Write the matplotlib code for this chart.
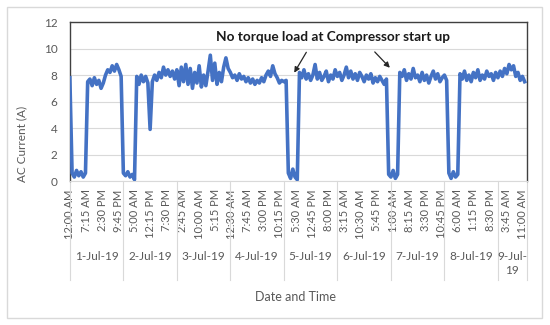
import numpy as np
import matplotlib
matplotlib.use("Agg")
import matplotlib.pyplot as plt
from matplotlib.patches import Rectangle

# ---------------------------------------------------------
# DATA  (hourly AC current readings, A)
# ---------------------------------------------------------

jul1 = [7.8, 0.6, 0.3, 0.8, 0.4, 0.7, 0.3, 0.6, 7.5, 7.7, 7.2, 7.8,
        7.3, 7.6, 7.0, 7.4, 8.0, 8.4, 8.2, 8.7, 8.3, 8.8, 8.4, 7.9]
jul2 = [0.6, 0.4, 0.7, 0.3, 0.5, 0.1, 7.9, 7.3, 8.0, 7.5, 7.9, 7.4,
        3.9, 7.5, 8.0, 7.6, 8.2, 7.8, 8.6, 8.0, 8.4, 7.9, 8.3, 7.7]
jul3 = [8.4, 7.2, 8.6, 7.5, 8.8, 7.3, 8.5, 7.0, 8.2, 7.4, 8.7, 7.1,
        8.0, 7.2, 8.3, 9.5, 7.6, 8.9, 7.3, 8.2, 7.5, 8.6, 9.3, 8.5]
jul4 = [8.2, 7.8, 8.0, 7.6, 8.1, 7.7, 7.9, 7.5, 7.8, 7.4, 7.7, 7.3,
        7.6, 7.4, 7.8, 7.5, 8.0, 8.3, 7.9, 8.7, 8.1, 7.8, 7.4, 7.6]
jul5 = [7.5, 7.6, 0.6, 0.2, 0.9, 0.3, 0.1, 8.2, 7.8, 8.4, 7.7, 8.1,
        7.6, 8.0, 8.8, 7.7, 8.2, 7.6, 7.9, 8.3, 7.5, 8.0, 7.7, 8.4]
jul6 = [7.9, 8.2, 7.6, 8.0, 8.6, 7.8, 8.3, 7.7, 8.1, 7.6, 8.2, 7.9,
        7.5, 8.0, 7.7, 8.1, 7.4, 7.8, 7.5, 7.9, 7.6, 7.3, 7.7, 0.5]
jul7 = [0.3, 0.8, 0.2, 0.5, 8.2, 7.9, 8.4, 7.6, 8.1, 7.7, 8.5, 7.8,
        8.0, 7.5, 8.2, 7.6, 8.0, 7.4, 7.9, 8.3, 7.7, 8.1, 7.5, 7.8]
jul8 = [8.0, 7.6, 0.6, 0.2, 0.7, 0.3, 0.5, 8.1, 7.7, 8.3, 7.6, 8.0,
        7.5, 8.2, 7.8, 8.4, 7.6, 8.0, 7.7, 8.3, 7.9, 8.1, 7.6, 8.2]
jul9 = [7.8, 8.3, 7.9, 8.5, 8.1, 8.8, 8.4, 8.7, 7.9, 8.2, 7.6, 7.9, 7.5]

day_labels = ["1-Jul-19", "2-Jul-19", "3-Jul-19", "4-Jul-19", "5-Jul-19",
              "6-Jul-19", "7-Jul-19", "8-Jul-19", "9-Jul-\n19"]

time_labels = ["12:00 AM", "7:15 AM", "2:30 PM", "9:45 PM", "5:00 AM",
               "12:15 PM", "7:30 PM", "2:45 AM", "10:00 AM", "5:15 PM",
               "12:30 AM", "7:45 AM", "3:00 PM", "10:15 PM", "5:30 AM",
               "12:45 PM", "8:00 PM", "3:15 AM", "10:30 AM", "5:45 PM",
               "1:00 AM", "8:15 AM", "3:30 PM", "10:45 PM", "6:00 AM",
               "1:15 PM", "8:30 PM", "3:45 AM", "11:00 AM"]

current = np.array(jul1 + jul2 + jul3 + jul4 + jul5 + jul6 + jul7 + jul8 + jul9)
hours = np.arange(len(current))

# ---------------------------------------------------------
# STYLE
# ---------------------------------------------------------

plt.rcParams["font.family"] = ["Lato", "DejaVu Sans"]
grey_txt = "#595959"
line_col = "#4472C4"

fig = plt.figure(figsize=(5.5, 3.25), dpi=100)
ax = fig.add_axes([0.127, 0.443, 0.831, 0.489])

# outer chart border
fig.patches.append(Rectangle((0.013, 0.021), 0.973, 0.957,
                             transform=fig.transFigure, fill=False,
                             edgecolor="#d9d9d9", linewidth=1.0))

ax.plot(hours, current, color=line_col, linewidth=2.6,
        solid_joinstyle="round", zorder=3)

ax.set_xlim(0, 205)
ax.set_ylim(0, 12)
ax.set_yticks(np.arange(0, 13, 2))
ax.grid(axis="y", color="#d9d9d9", linewidth=0.8)
ax.set_axisbelow(True)

for side in ["left", "top", "right"]:
    ax.spines[side].set_color("#404040")
    ax.spines[side].set_linewidth(1.0)
ax.spines["bottom"].set_color("#d9d9d9")

tick_pos = np.arange(len(time_labels)) * 7.25
ax.set_xticks(tick_pos)
ax.set_xticklabels(time_labels, rotation=90, fontsize=8, color=grey_txt)
ax.tick_params(axis="x", length=0, pad=6)
ax.tick_params(axis="y", length=0, pad=9, labelsize=8.5, labelcolor=grey_txt)

# ---------------------------------------------------------
# DAY GROUPS
# ---------------------------------------------------------

xtr = ax.get_xaxis_transform()
for i, lab in enumerate(day_labels):
    start = 24 * i
    end = min(24 * (i + 1), 205)
    ax.text((start + end) / 2, -0.44, lab, transform=xtr, ha="center",
            va="top", fontsize=8.5, color=grey_txt, linespacing=1.3)
for b in list(range(0, 205, 24)) + [205]:
    ax.plot([b, b], [0, -0.625], transform=xtr, color="#d9d9d9",
            linewidth=0.8, clip_on=False)

# ---------------------------------------------------------
# ANNOTATION
# ---------------------------------------------------------

ax.text(118, 10.9, "No torque load at Compressor start up", ha="center",
        va="center", fontsize=9.8, fontweight="bold", color="#1a1a1a")
ax.annotate("", xy=(100, 8.0), xytext=(106.7, 9.9),
            arrowprops=dict(arrowstyle="-|>", color="#262626", lw=0.9,
                            mutation_scale=8))
ax.annotate("", xy=(144.4, 8.4), xytext=(135.9, 9.9),
            arrowprops=dict(arrowstyle="-|>", color="#262626", lw=0.9,
                            mutation_scale=8))

# ---------------------------------------------------------
# AXIS TITLES
# ---------------------------------------------------------

fig.text(0.04, 0.557, "AC Current (A)", rotation=90, ha="center",
         va="center", fontsize=8.5, color=grey_txt)
fig.text(0.538, 1 - 297 / 325, "Date and Time", ha="center", va="center",
         fontsize=9, color=grey_txt)

fig.savefig("out.png", dpi=100)
